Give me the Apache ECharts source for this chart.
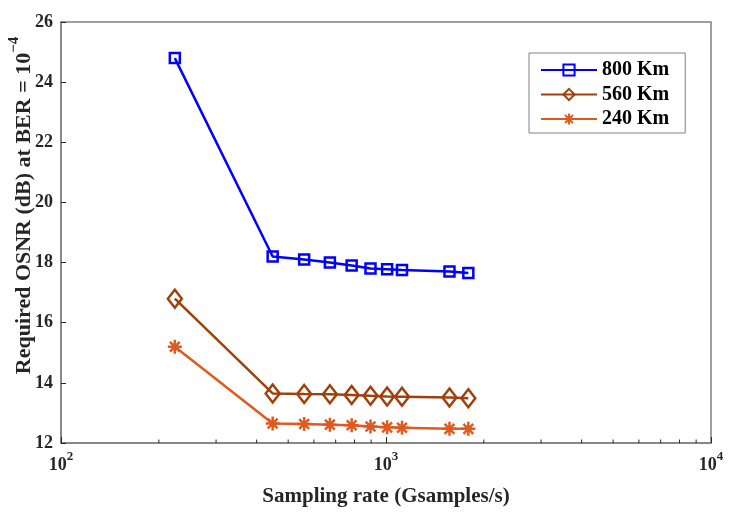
<!DOCTYPE html>
<html>
<head>
<meta charset="utf-8">
<script src="https://cdn.jsdelivr.net/npm/echarts@6/dist/echarts.min.js"></script>
<style>
  html, body { margin: 0; padding: 0; background: #fff; }
  #chart { width: 746px; height: 515px; }
</style>
</head>
<body>
<div id="chart"></div>
<script>
// sampling rates (Gsamples/s)
var rates = [224, 448, 560, 672, 784, 896, 1008, 1120, 1568, 1792];
// required OSNR (dB) per link length
var osnr800 = [24.8, 18.2, 18.1, 18.0, 17.9, 17.8, 17.78, 17.75, 17.7, 17.65];
var osnr560 = [16.8, 13.65, 13.63, 13.62, 13.6, 13.57, 13.55, 13.54, 13.51, 13.49];
var osnr240 = [15.2, 12.65, 12.63, 12.61, 12.59, 12.55, 12.52, 12.51, 12.47, 12.47];
var seriesNames = ['800 Km', '560 Km', '240 Km'];
var minorTicks = [200, 300, 400, 500, 600, 700, 800, 900, 2000, 3000, 4000, 5000, 6000, 7000, 8000, 9000];

var font = 'Liberation Serif';
var starPath = 'path://M0,-10L0,10M-10,0L10,0M-7,-7L7,7M-7,7L7,-7';

function pairs(ys) {
    return rates.map(function (x, i) { return [x, ys[i]]; });
}

var supRich = {
    b: { fontFamily: font, fontWeight: 'bold', fontSize: 18, color: '#262626', lineHeight: 24, verticalAlign: 'bottom' },
    s: { fontFamily: font, fontWeight: 'bold', fontSize: 13, color: '#262626', lineHeight: 14, verticalAlign: 'top' }
};

var chart = echarts.init(document.getElementById('chart'));
var option = {
    animation: false,
    backgroundColor: '#fff',
    grid: {
        left: 61, right: 35, top: 22, bottom: 72,
        outerBoundsMode: 'none',
        show: true, borderColor: '#808080', borderWidth: 1.5
    },
    legend: {
        data: seriesNames,
        orient: 'vertical',
        left: 529,
        top: 53,
        padding: [7, 16, 4, 11],
        itemGap: 4.5,
        itemWidth: 56,
        itemHeight: 14,
        borderColor: '#808080',
        borderWidth: 1,
        backgroundColor: '#fff',
        textStyle: { fontFamily: font, fontWeight: 'bold', fontSize: 20, color: '#000' }
    },
    xAxis: {
        type: 'log',
        logBase: 10,
        min: 100,
        max: 10000,
        name: 'Sampling rate (Gsamples/s)',
        nameLocation: 'middle',
        nameGap: 43,
        nameMoveOverlap: false,
        nameTextStyle: { fontFamily: font, fontWeight: 'bold', fontSize: 21, color: '#262626' },
        axisLine: { lineStyle: { color: '#808080', width: 1.5 } },
        axisTick: { inside: true, length: 6, lineStyle: { color: '#262626' } },
        splitLine: { show: false },
        axisLabel: {
            margin: 7,
            formatter: function (v) {
                var e = Math.round(Math.log10(v));
                return '{b|10}{s|' + e + '}';
            },
            rich: supRich
        }
    },
    yAxis: {
        type: 'value',
        min: 12,
        max: 26,
        interval: 2,
        name: '{b|Required OSNR (dB) at BER = 10}{s|\u22124}',
        nameLocation: 'middle',
        nameRotate: 90,
        nameGap: 26,
        nameMoveOverlap: false,
        nameTextStyle: {
            padding: [0, 0, 0, 54],
            rich: {
                b: { fontFamily: font, fontWeight: 'bold', fontSize: 22, color: '#262626', lineHeight: 28, verticalAlign: 'bottom' },
                s: { fontFamily: font, fontWeight: 'bold', fontSize: 15, color: '#262626', lineHeight: 15, verticalAlign: 'top' }
            }
        },
        axisLine: { show: true, lineStyle: { color: '#808080', width: 1.5 } },
        axisTick: { inside: true, length: 5, lineStyle: { color: '#262626' } },
        splitLine: { show: false },
        axisLabel: { fontFamily: font, fontWeight: 'bold', fontSize: 18, color: '#262626', margin: 8 }
    },
    series: [
        {
            name: seriesNames[0],
            type: 'line',
            data: pairs(osnr800),
            symbol: 'rect',
            symbolSize: 10,
            lineStyle: { color: '#0000ff', width: 2.5 },
            itemStyle: { color: 'transparent', borderColor: '#0000ff', borderWidth: 2.5 },
            z: 3
        },
        {
            name: seriesNames[1],
            type: 'line',
            data: pairs(osnr560),
            symbol: 'diamond',
            symbolSize: [14, 18],
            lineStyle: { color: '#a0400a', width: 2.5 },
            itemStyle: { color: 'transparent', borderColor: '#a0400a', borderWidth: 2.5 },
            z: 3
        },
        {
            name: seriesNames[2],
            type: 'line',
            data: pairs(osnr240),
            symbol: starPath,
            symbolSize: 14,
            lineStyle: { color: '#e05a20', width: 2.5 },
            itemStyle: { color: 'transparent', borderColor: '#e05a20', borderWidth: 2.5 },
            z: 3
        },
        {
            // minor ticks of the log axis
            type: 'custom',
            silent: true,
            data: minorTicks.map(function (v) { return [v, 12]; }),
            renderItem: function (params, api) {
                var p = api.coord([api.value(0), api.value(1)]);
                return {
                    type: 'line',
                    shape: { x1: p[0], y1: p[1], x2: p[0], y2: p[1] - 3.5 },
                    style: { stroke: '#262626', lineWidth: 1 }
                };
            },
            z: 2
        }
    ]
};
chart.setOption(option);
</script>
</body>
</html>
